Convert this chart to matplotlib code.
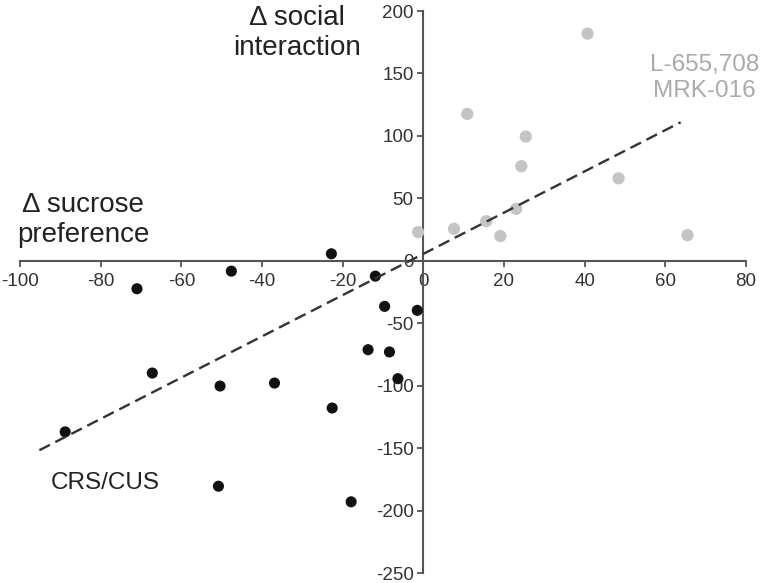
import numpy as np
import matplotlib
matplotlib.use("Agg")
import matplotlib.pyplot as plt

plt.rcParams['font.family'] = ['Liberation Sans', 'DejaVu Sans']
plt.rcParams['axes.unicode_minus'] = False

# CRS/CUS (black) points: delta sucrose preference vs delta social interaction
crs_x = [-22.8, -47.6, -71.0, -11.9, -9.6, -1.5, -13.7, -8.4, -6.3,
         -67.2, -50.4, -36.9, -22.6, -88.8, -50.8, -17.9]
crs_y = [5.6, -8.3, -22.4, -12.3, -36.5, -39.7, -71.2, -73.0, -94.4,
         -89.9, -100.3, -97.9, -117.9, -137.0, -180.5, -193.0]

# L-655,708 / MRK-016 (grey) points
drug_x = [-1.3, 7.6, 10.9, 15.6, 19.1, 23.0, 24.3, 25.4, 40.7, 48.4, 65.5]
drug_y = [23.0, 25.6, 117.6, 31.7, 19.8, 41.6, 75.7, 99.5, 181.9, 66.0, 20.5]

# linear trend line end points
trend_x = [-95.2, 63.8]
trend_y = [-151.7, 110.9]

xticks = [-100, -80, -60, -40, -20, 0, 20, 40, 60, 80]
yticks = [-250, -200, -150, -100, -50, 0, 50, 100, 150, 200]

fig = plt.figure(figsize=(7.6, 5.83), dpi=100)
ax = fig.add_axes([20/760, 10/583, 726/760, 562/583])

ax.scatter(drug_x, drug_y, s=78, color='#c4c4c4', edgecolors='none', zorder=3)
ax.scatter(crs_x, crs_y, s=64, color='#111111', edgecolors='none', zorder=3)
ax.plot(trend_x, trend_y, color='#333333', lw=1.7, dashes=(5, 2.6), zorder=4)

ax.set_xlim(-100, 80)
ax.set_ylim(-250, 200)
ax.set_xticks(xticks)
ax.set_yticks(yticks)

for side in ['top', 'right']:
    ax.spines[side].set_visible(False)
ax.spines['left'].set_position(('data', 0))
ax.spines['bottom'].set_position(('data', 0))
for side in ['left', 'bottom']:
    ax.spines[side].set_color('#555555')
    ax.spines[side].set_linewidth(1.5)
ax.tick_params(direction='out', length=4, width=1.3, color='#555555',
               labelsize=13.5, labelcolor='#333333')
ax.tick_params(axis='y', pad=3)
ax.tick_params(axis='x', pad=5)

ax.text(-31.3, 182, 'Δ social\ninteraction', fontsize=20, color='#222222',
        ha='center', va='center', linespacing=1.2)
ax.text(-84.4, 32.8, 'Δ sucrose\npreference', fontsize=20, color='#222222',
        ha='center', va='center', linespacing=1.2)
ax.text(69.7, 146.4, 'L-655,708\nMRK-016', fontsize=17.5, color='#aaaaaa',
        ha='center', va='center', linespacing=1.2)
ax.text(-78.9, -177.6, 'CRS/CUS', fontsize=17.5, color='#222222',
        ha='center', va='center')

fig.savefig('out.png', dpi=100)
